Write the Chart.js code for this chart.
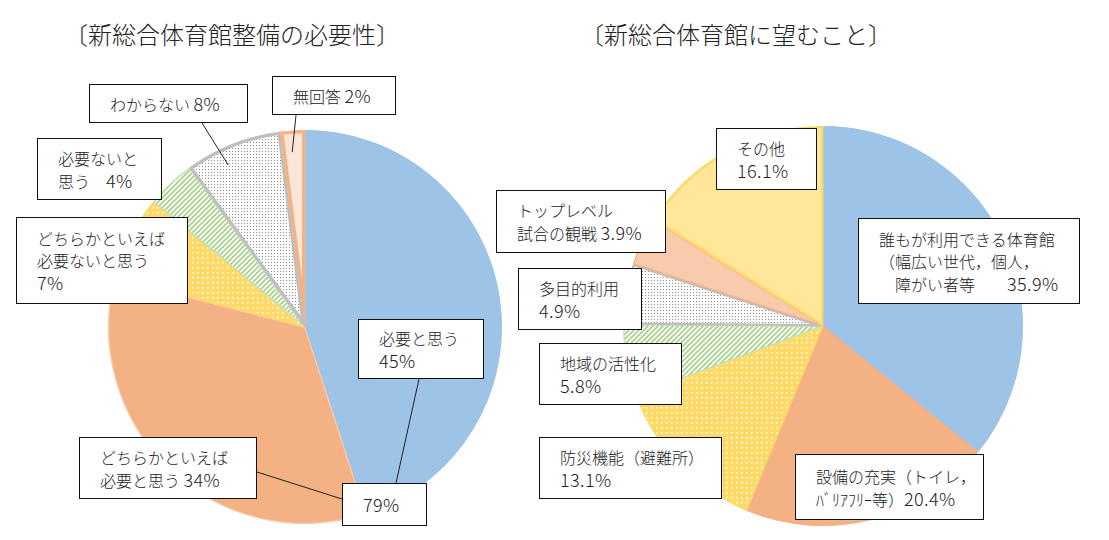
<!DOCTYPE html>
<html lang="ja">
<head>
<meta charset="utf-8">
<script src="https://cdn.jsdelivr.net/npm/chart.js@4/dist/chart.umd.min.js"></script>
<style>
body {
    margin: 0;
    width: 1109px;
    height: 540px;
    position: relative;
    overflow: hidden;
    background: #fff;
    font-family: "Noto Sans CJK JP", "Noto Sans", sans-serif;
    color: #222;
}
.holder { position: absolute; top: 0; height: 540px; }
.title {
    position: absolute;
    top: 16px;
    font-size: 24px;
    line-height: 36px;
    font-weight: 300;
    white-space: pre;
}
.box {
    position: absolute;
    box-sizing: border-box;
    border: 1.4px solid #111;
    background: #fff;
    display: flex;
    align-items: center;
    padding-left: 20px;
    font-size: 16px;
    line-height: 22px;
    font-weight: 300;
    white-space: pre;
    z-index: 2;
}
.num { font-size: 18px; letter-spacing: 0.4px; }
</style>
</head>
<body>
<div class="title" style="left:64px">〔新総合体育館整備の必要性〕</div>
<div class="title" style="left:580px">〔新総合体育館に望むこと〕</div>
<div class="holder" style="left:0; width:554px"><canvas id="needChart"></canvas></div>
<div class="holder" style="left:554px; width:555px"><canvas id="wishChart"></canvas></div>
<div id="boxes"></div>

<script>
"use strict";

// 新総合体育館整備の必要性 (%)
const needLabels = ["必要と思う", "どちらかといえば必要と思う", "どちらかといえば必要ないと思う",
                    "必要ないと思う", "わからない", "無回答"];
const needValues = [45, 34, 7, 4, 8, 2];
const needTotal = 79;

// 新総合体育館に望むこと (%)
const wishLabels = ["誰もが利用できる体育館（幅広い世代，個人，障がい者等）", "設備の充実（トイレ，バリアフリー等）",
                    "防災機能（避難所）", "地域の活性化", "多目的利用", "トップレベル試合の観戦", "その他"];
const wishValues = [35.9, 20.4, 13.1, 5.8, 4.9, 3.9, 16.1];

function makePattern(size, bg, draw)
{
    const c = document.createElement("canvas");
    c.width = size;
    c.height = size;
    const g = c.getContext("2d");
    g.fillStyle = bg;
    g.fillRect(0, 0, size, size);
    draw(g, size);
    return g.createPattern(c, "repeat");
}

function yellowDots()
{
    return makePattern(5, "#FFD966", function(g) {
        g.fillStyle = "rgba(255,255,255,0.95)";
        g.fillRect(2, 2, 1.6, 1.6);
    });
}

function greyDots()
{
    return makePattern(3, "#ffffff", function(g) {
        g.fillStyle = "#8c8c8c";
        g.fillRect(1, 1, 1, 1);
    });
}

function greenStripes()
{
    return makePattern(5, "#ffffff", function(g, s) {
        g.strokeStyle = "#A9D18E";
        g.lineWidth = 1.8;
        g.beginPath();
        g.moveTo(-1, s + 1); g.lineTo(s + 1, -1);
        g.moveTo(-1, 1); g.lineTo(1, -1);
        g.moveTo(s - 1, s + 1); g.lineTo(s + 1, s - 1);
        g.stroke();
    });
}

function fmt(v)
{
    return Number.isInteger(v) ? v + "%" : v.toFixed(1) + "%";
}

// leader lines; kept out of chart options so they are not proxied
function leaderPlugin(lines)
{
    return {
        id: "leaders",
        afterDraw(chart)
        {
            const ctx = chart.ctx;
            const rect = chart.canvas.getBoundingClientRect();
            const arcs = chart.getDatasetMeta(0).data;
            ctx.save();
            ctx.strokeStyle = "#222";
            ctx.lineWidth = 1;
            for (const l of lines) {
                let from;
                if ("slice" in l) {
                    const a = arcs[l.slice];
                    if (!a)
                        continue;
                    const ang = a.startAngle + (a.endAngle - a.startAngle) * l.t;
                    from = [a.x + Math.cos(ang) * a.outerRadius * l.r,
                            a.y + Math.sin(ang) * a.outerRadius * l.r];
                } else {
                    from = [l.from[0] - rect.left, l.from[1] - rect.top];
                }
                ctx.beginPath();
                ctx.moveTo(from[0], from[1]);
                ctx.lineTo(l.to[0] - rect.left, l.to[1] - rect.top);
                ctx.stroke();
            }
            ctx.restore();
        }
    };
}

function buildPie(id, labels, values, styles, radius, padding, lines)
{
    return new Chart(id, {
        type: "pie",
        data: {
            labels: labels,
            datasets: [{
                data: values,
                backgroundColor: styles.bg,
                borderColor: styles.border,
                borderWidth: styles.width,
                borderAlign: "inner",
                radius: radius
            }]
        },
        options: {
            responsive: true,
            maintainAspectRatio: false,
            animation: false,
            layout: { padding: padding },
            plugins: {
                legend: { display: false },
                tooltip: { enabled: false }
            }
        },
        plugins: [leaderPlugin(lines)]
    });
}

buildPie("needChart", needLabels, needValues, {
    bg: ["#9DC3E6", "#F4B183", yellowDots(), greenStripes(), greyDots(), "#FBE5D6"],
    border: ["#9DC3E6", "#F8CBAD", "#FFD966", "#C5E0B4", "#BFBFBF", "#F4B183"],
    width: [1, 1, 1, 1, 3, 3]
}, 197, {left: 56, top: 114, right: 0, bottom: 0}, [
    {slice: 4, t: 0.37, r: 0.91, to: [202, 123]},
    {slice: 5, t: 0.42, r: 0.89, to: [296, 115]},
    {from: [419, 379], to: [396, 483]},
    {from: [257, 472], to: [342, 499]}
]);

buildPie("wishChart", wishLabels, wishValues, {
    bg: ["#9DC3E6", "#F4B183", yellowDots(), greenStripes(), greyDots(), "#F8CBAD", "#FFE699"],
    border: ["#9DC3E6", "#F4B183", "#FFD966", "#C5E0B4", "#BFBFBF", "#F4B183", "#FFD966"],
    width: [1, 1, 1, 1, 2, 1, 2]
}, 200, {left: 0, top: 112, right: 17, bottom: 0}, []);

// label boxes: [left, top, width, height, text]
const boxes = [
    [89, 84, 159, 39, "わからない " + fmt(needValues[4])],
    [272, 76, 124, 39, "無回答 " + fmt(needValues[5])],
    [37, 138, 125, 62, "必要ないと\n思う　" + fmt(needValues[3])],
    [16, 217, 172, 87, "どちらかといえば\n必要ないと思う\n" + fmt(needValues[2])],
    [358, 319, 126, 60, "必要と思う\n" + fmt(needValues[0])],
    [79, 437, 178, 62, "どちらかといえば\n必要と思う " + fmt(needValues[1])],
    [342, 483, 85, 43, fmt(needTotal)],
    [716, 128, 101, 62, "その他\n" + fmt(wishValues[6])],
    [496, 190, 170, 63, "トップレベル\n試合の観戦 " + fmt(wishValues[5])],
    [858, 218, 222, 86, "誰もが利用できる体育館\n（幅広い世代，個人，\n　障がい者等　　" + fmt(wishValues[0])],
    [518, 268, 124, 62, "多目的利用\n" + fmt(wishValues[4])],
    [539, 343, 143, 62, "地域の活性化\n" + fmt(wishValues[3])],
    [539, 437, 183, 62, "防災機能（避難所）\n" + fmt(wishValues[2])],
    [795, 454, 189, 66, "設備の充実（トイレ，\nﾊﾞﾘｱﾌﾘｰ等）" + fmt(wishValues[1])]
];

const boxLayer = document.getElementById("boxes");
for (const b of boxes) {
    const div = document.createElement("div");
    div.className = "box";
    div.style.left = b[0] + "px";
    div.style.top = b[1] + "px";
    div.style.width = b[2] + "px";
    div.style.height = b[3] + "px";
    const inner = document.createElement("div");
    inner.innerHTML = b[4].replace(/([\d.]+%)/g, '<span class="num">$1</span>');
    div.appendChild(inner);
    boxLayer.appendChild(div);
}
</script>
</body>
</html>
